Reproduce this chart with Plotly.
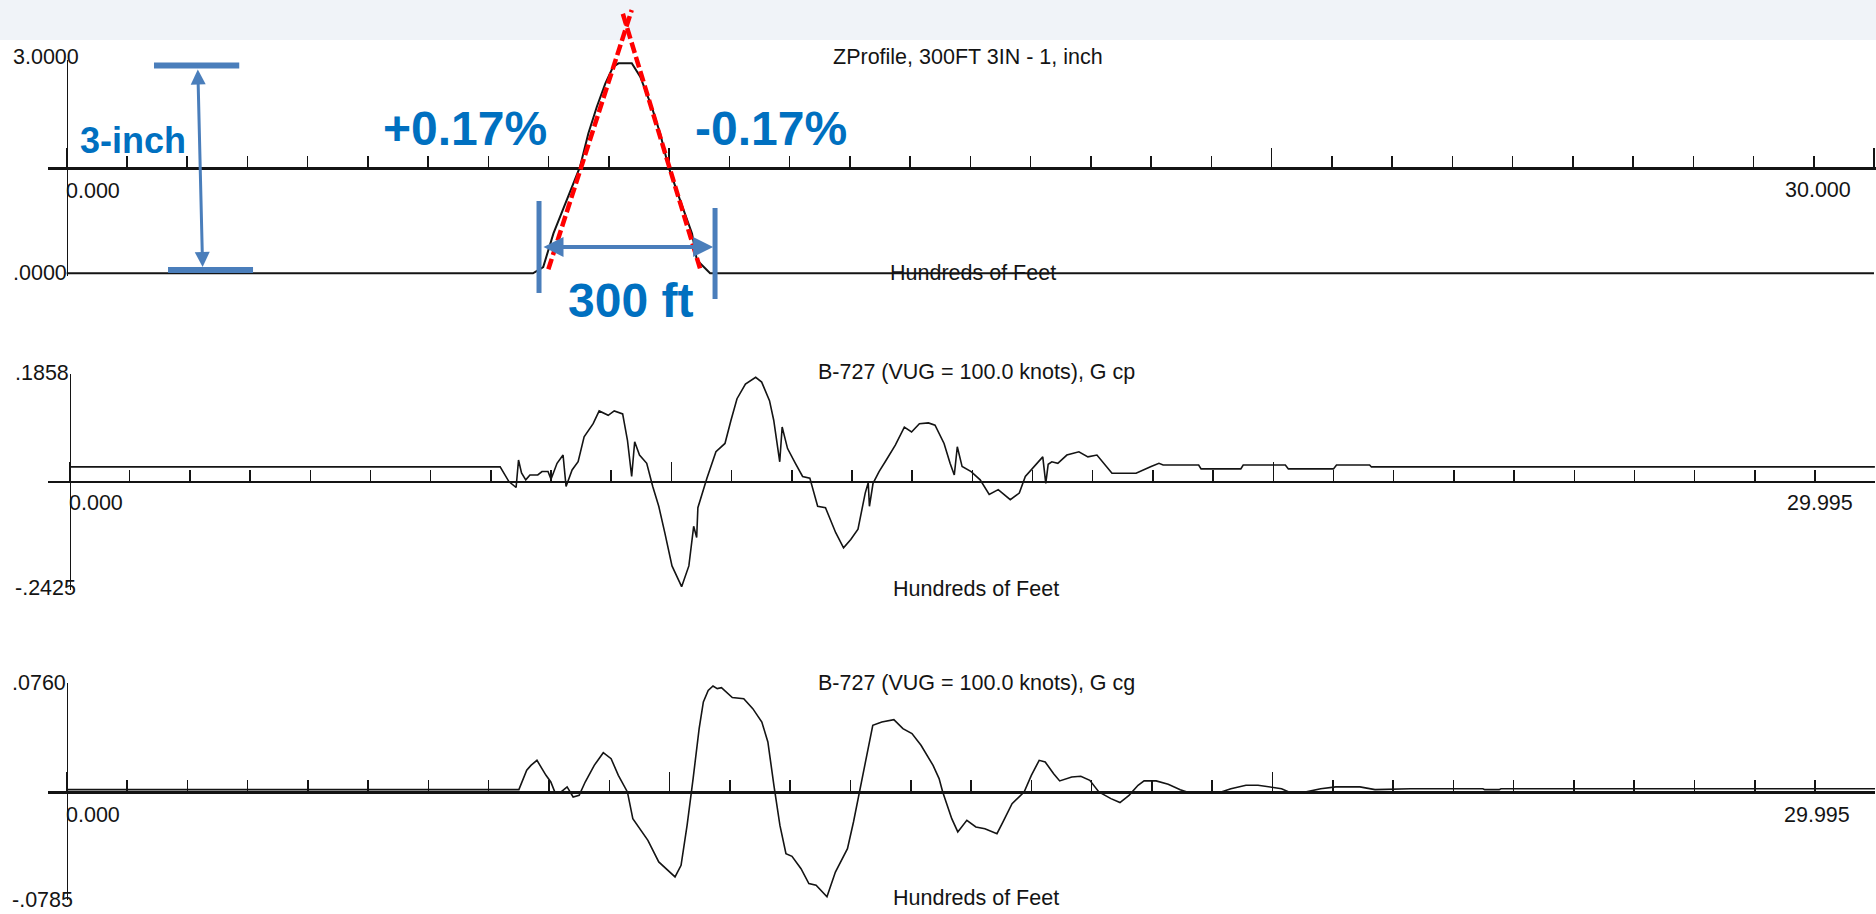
import plotly.graph_objects as go

W, H = 1876, 914

# ---------------- data ----------------
# Road profile: distance in hundreds of feet, elevation in inches
PROFILE_X = [0.0, 7.74, 7.80, 7.91, 8.08, 8.30, 8.52, 8.66, 8.80, 8.94, 9.07, 9.16, 9.38,
             9.52, 9.71, 9.85, 9.99, 10.18, 10.38, 10.46, 10.60, 10.68, 30.0]
PROFILE_Z = [0.0, 0.0, 0.03, 0.09, 0.57, 1.05, 1.52, 2.00, 2.38, 2.71, 2.95, 3.00, 3.00,
             2.81, 2.38, 2.00, 1.52, 1.05, 0.57, 0.19, 0.07, 0.0, 0.0]

# B-727 response at the cockpit (G cp)
GCP_X = [0.0, 7.155, 7.30, 7.42, 7.46, 7.51, 7.58, 7.65, 7.78, 7.85, 7.95, 8.00, 8.10, 8.20,
         8.25, 8.35, 8.45, 8.55, 8.70, 8.80, 8.95, 9.05, 9.19, 9.27, 9.34, 9.39, 9.47, 9.59,
         9.69, 9.79, 9.89, 10.01, 10.17, 10.29, 10.37, 10.42, 10.44, 10.59, 10.74, 10.89,
         10.99, 11.09, 11.23, 11.40, 11.50, 11.63, 11.70, 11.80, 11.84, 11.93, 12.06, 12.18,
         12.30, 12.43, 12.56, 12.73, 12.86, 12.98, 13.10, 13.22, 13.27, 13.29, 13.35, 13.45,
         13.57, 13.72, 13.87, 13.99, 14.12, 14.27, 14.38, 14.53, 14.63, 14.70, 14.75, 14.83,
         14.98, 15.13, 15.28, 15.43, 15.63, 15.78, 15.88, 16.03, 16.17, 16.22, 16.26, 16.32,
         16.42, 16.57, 16.77, 16.92, 17.07, 17.32, 17.72, 17.97, 18.10, 18.17, 18.76, 18.80,
         19.46, 19.50, 20.20, 20.25, 21.00, 21.05, 21.60, 21.63, 29.995]
GCP_G = [0.0025, 0.0025, -0.0274, -0.0396, 0.0166, -0.0100, -0.0240, -0.0140, -0.0140,
         -0.0070, -0.0070, -0.0226, 0.0099, 0.0268, -0.0375, -0.0037, 0.0130, 0.0640, 0.0910,
         0.1170, 0.1080, 0.1170, 0.1110, 0.0570, -0.0170, 0.0540, 0.0268, 0.0099, -0.0375,
         -0.0780, -0.1320, -0.2000, -0.2425, -0.2000, -0.1190, -0.1420, -0.0810, -0.0205,
         0.0335, 0.0505, 0.0980, 0.1420, 0.1720, 0.1858, 0.1760, 0.1380, 0.0980, 0.0130,
         0.0840, 0.0400, 0.0099, -0.0170, -0.0205, -0.0780, -0.0810, -0.1320, -0.1630,
         -0.1460, -0.1250, -0.0510, -0.0300, -0.0780, -0.0310, -0.0070, 0.0166, 0.0470,
         0.0840, 0.0740, 0.0910, 0.0925, 0.0877, 0.0505, 0.0099, -0.0140, 0.0437, 0.0032,
         -0.0070, -0.0240, -0.0540, -0.0440, -0.0645, -0.0510, -0.0170, 0.0032, 0.0230,
         -0.0310, 0.0080, 0.0130, 0.0099, 0.0268, 0.0335, 0.0230, 0.0268, -0.0104, -0.0104,
         0.0032, 0.0099, 0.0065, 0.0065, -0.0016, -0.0016, 0.0065, 0.0065, -0.0016, -0.0016,
         0.0065, 0.0065, 0.0025, 0.0025]

# B-727 response at the centre of gravity (G cg)
GCG_X = [0.0, 7.50, 7.63, 7.70, 7.80, 7.85, 7.95, 8.03, 8.10, 8.20, 8.30, 8.40, 8.50, 8.60,
         8.75, 8.90, 9.03, 9.15, 9.30, 9.39, 9.49, 9.64, 9.82, 9.94, 10.09, 10.19, 10.29,
         10.39, 10.49, 10.56, 10.64, 10.72, 10.79, 10.86, 11.04, 11.23, 11.38, 11.53, 11.63,
         11.73, 11.83, 11.93, 12.03, 12.18, 12.31, 12.43, 12.61, 12.75, 12.95, 13.05, 13.15,
         13.25, 13.37, 13.52, 13.72, 13.87, 14.02, 14.17, 14.37, 14.47, 14.53, 14.68, 14.78,
         14.93, 15.08, 15.23, 15.43, 15.53, 15.68, 15.88, 16.00, 16.13, 16.23, 16.37, 16.47,
         16.67, 16.82, 16.97, 17.12, 17.32, 17.47, 17.62, 17.77, 17.87, 18.07, 18.27, 18.47,
         18.62, 19.11, 19.31, 19.56, 19.76, 20.15, 20.30, 20.50, 20.80, 21.05, 21.45, 21.70,
         22.29, 23.49, 23.52, 23.76, 23.79, 29.995]
GCG_G = [0.0, 0.0, 0.0142, 0.0178, 0.0215, 0.0178, 0.0105, 0.0056, -0.0022, -0.0017, 0.0020,
         -0.0054, -0.0042, 0.0056, 0.0178, 0.0271, 0.0227, 0.0105, -0.0017, -0.0213, -0.0274,
         -0.0372, -0.0530, -0.0580, -0.0640, -0.0555, -0.0262, 0.0081, 0.0447, 0.0643, 0.0728,
         0.0760, 0.0741, 0.0748, 0.0675, 0.0667, 0.0594, 0.0496, 0.0350, 0.0032, -0.0262,
         -0.0470, -0.0489, -0.0580, -0.0689, -0.0701, -0.0785, -0.0604, -0.0433, -0.0237,
         -0.0017, 0.0203, 0.0472, 0.0496, 0.0513, 0.0447, 0.0411, 0.0325, 0.0178, 0.0081,
         -0.0017, -0.0213, -0.0310, -0.0225, -0.0274, -0.0286, -0.0323, -0.0237, -0.0103,
         -0.0017, 0.0105, 0.0215, 0.0203, 0.0117, 0.0064, 0.0093, 0.0098, 0.0068, -0.0017,
         -0.0066, -0.0095, -0.0042, 0.0032, 0.0064, 0.0064, 0.0039, 0.0000, -0.0022, -0.0022,
         0.0007, 0.0032, 0.0032, 0.0007, -0.0022, -0.0022, 0.0007, 0.0020, 0.0020, 0.0000,
         0.0007, 0.0007, 0.0000, 0.0000, 0.0007, 0.0007]

TITLES = ["ZProfile, 300FT 3IN - 1, inch",
          "B-727 (VUG = 100.0 knots), G cp",
          "B-727 (VUG = 100.0 knots), G cg"]
Y_TOP_LABELS = ["3.0000", ".1858", ".0760"]
Y_BOTTOM_LABELS = [".0000", "-.2425", "-.0785"]
X_START_LABELS = ["0.000", "0.000", "0.000"]
X_END_LABELS = ["30.000", "29.995", "29.995"]
X_TITLE = "Hundreds of Feet"

# Grade markup on the profile (hundreds of feet, inches)
GRADE_UP_X, GRADE_UP_Z = [7.995, 9.379], [0.057, 3.761]
GRADE_DOWN_X, GRADE_DOWN_Z = [10.513, 9.213], [0.071, 3.761]
HEIGHT_BAR_TOP_X, HEIGHT_BAR_TOP_Z = [1.449, 2.864], [2.969, 2.969]
HEIGHT_BAR_BOT_X, HEIGHT_BAR_BOT_Z = [1.682, 3.093], [0.047, 0.047]
HEIGHT_ARROW_X, HEIGHT_ARROW_Z = [2.176, 2.256], [2.933, 0.090]
LENGTH_BAR_L_X, LENGTH_BAR_L_Z = [7.840, 7.840], [1.033, -0.281]
LENGTH_BAR_R_X, LENGTH_BAR_R_Z = [10.762, 10.762], [0.933, -0.367]
LENGTH_ARROW_X, LENGTH_ARROW_Z = [7.890, 10.730], [0.376, 0.376]
MARKUP_TEXT = ["3-inch", "+0.17%", "-0.17%", "300 ft"]

# ---------------- layout geometry (pixels) ----------------
AXIS_LEFT = 48.0
PANELS = [
    dict(x0=66.7, ppu=60.243, dom_end=1875.5, top=63.3, bottom=273.3, axis=168.0),
    dict(x0=69.5, ppu=60.190, dom_end=1875.0, top=377.3, bottom=586.7, axis=481.5),
    dict(x0=66.7, ppu=60.290, dom_end=1875.0, top=686.0, bottom=896.7, axis=792.0),
]
INK = "#141414"
CHART_FONT = "Liberation Sans, Arial, sans-serif"
MARK_FONT = "Liberation Sans, Arial, sans-serif"
MARK_BLUE = "#0070C0"
LINE_BLUE = "#4A7EBB"


def paper_x(px):
    return px / W


def paper_y(py):
    return 1.0 - py / H


fig = go.Figure()
layout = dict(width=W, height=H, autosize=False, margin=dict(l=0, r=0, t=0, b=0),
              paper_bgcolor="white", plot_bgcolor="rgba(0,0,0,0)", showlegend=False,
              hovermode=False)

series = [(PROFILE_X, PROFILE_Z, 2.0), (GCP_X, GCP_G, 1.6), (GCG_X, GCG_G, 1.6)]
for i, (p, (xs, ys, lw)) in enumerate(zip(PANELS, series), start=1):
    sfx = "" if i == 1 else str(i)
    fig.add_trace(go.Scatter(x=xs, y=ys, mode="lines", line=dict(color=INK, width=lw),
                             xaxis="x" + sfx, yaxis="y" + sfx, hoverinfo="skip"))
    ymin, ymax = min(ys), max(ys)
    ppy = (p["bottom"] - p["top"]) / (ymax - ymin)
    pad = 3.0
    layout["xaxis" + sfx] = dict(
        domain=[paper_x(AXIS_LEFT), paper_x(p["dom_end"])],
        range=[(AXIS_LEFT - p["x0"]) / p["ppu"], (p["dom_end"] - p["x0"]) / p["ppu"]],
        anchor="free", position=paper_y(p["axis"]), side="bottom",
        showline=True, linecolor=INK, linewidth=2.5,
        ticks="inside", tickmode="linear", tick0=0, dtick=10, ticklen=19,
        tickwidth=1.5, tickcolor=INK,
        minor=dict(ticks="inside", tick0=0, dtick=1, ticklen=11, tickwidth=1.5,
                   tickcolor=INK, showgrid=False),
        showticklabels=False, showgrid=False, zeroline=False, fixedrange=True)
    layout["yaxis" + sfx] = dict(
        domain=[paper_y(p["bottom"] + pad), paper_y(p["top"] - pad)],
        range=[ymin - pad / ppy, ymax + pad / ppy],
        anchor="free", position=paper_x(p["x0"]),
        showline=True, linecolor=INK, linewidth=1.5, ticks="",
        showticklabels=False, showgrid=False, zeroline=False, fixedrange=True)

# Full-page overlay axes sharing the profile panel's scale, for the markup
p1 = PANELS[0]
ppy1 = (p1["bottom"] - p1["top"]) / (max(PROFILE_Z) - min(PROFILE_Z))
layout["xaxis4"] = dict(domain=[0, 1], anchor="y4", visible=False, fixedrange=True,
                        range=[-p1["x0"] / p1["ppu"], (W - p1["x0"]) / p1["ppu"]])
layout["yaxis4"] = dict(domain=[0, 1], anchor="x4", visible=False, fixedrange=True,
                        range=[min(PROFILE_Z) - (H - p1["bottom"]) / ppy1,
                               max(PROFILE_Z) + p1["top"] / ppy1])

for xs, zs in [(GRADE_UP_X, GRADE_UP_Z), (GRADE_DOWN_X, GRADE_DOWN_Z)]:
    fig.add_trace(go.Scatter(x=xs, y=zs, mode="lines", xaxis="x4", yaxis="y4",
                             line=dict(color="#FF0000", width=4.5, dash="11px,4px"),
                             hoverinfo="skip"))
for xs, zs, w in [(HEIGHT_BAR_TOP_X, HEIGHT_BAR_TOP_Z, 6), (HEIGHT_BAR_BOT_X, HEIGHT_BAR_BOT_Z, 6),
                  (LENGTH_BAR_L_X, LENGTH_BAR_L_Z, 5), (LENGTH_BAR_R_X, LENGTH_BAR_R_Z, 5)]:
    fig.add_trace(go.Scatter(x=xs, y=zs, mode="lines", xaxis="x4", yaxis="y4",
                             line=dict(color=LINE_BLUE, width=w), hoverinfo="skip"))

annotations = []
for xs, zs, w in [(HEIGHT_ARROW_X, HEIGHT_ARROW_Z, 3), (LENGTH_ARROW_X, LENGTH_ARROW_Z, 4)]:
    annotations.append(dict(x=xs[1], y=zs[1], ax=xs[0], ay=zs[0], xref="x4", yref="y4",
                            axref="x4", ayref="y4", text="", showarrow=True,
                            arrowside="end+start", arrowhead=2, startarrowhead=2,
                            arrowsize=1.0, startarrowsize=1.0, arrowwidth=w,
                            arrowcolor=LINE_BLUE, standoff=0, startstandoff=0))


def label(text, px, py, size, family, color, bold=False):
    annotations.append(dict(text=("<b>%s</b>" % text) if bold else text,
                            x=paper_x(px), y=paper_y(py), xref="paper", yref="paper",
                            xanchor="left", yanchor="middle", showarrow=False,
                            font=dict(family=family, size=size, color=color)))


# Chart lettering
CHART_SIZE = 21.5
pos = [
    dict(top=(11, 57), title=(831, 57.5), start=(64, 191), end=(1783, 190),
         bottom=(11, 273), xt=(888, 273.5)),
    dict(top=(13, 373), title=(816, 372), start=(67, 503), end=(1785, 503),
         bottom=(13, 588), xt=(891, 589)),
    dict(top=(10, 683), title=(816, 683), start=(64, 815), end=(1782, 815),
         bottom=(10, 900), xt=(891, 898)),
]
for i, q in enumerate(pos):
    label(Y_TOP_LABELS[i], *q["top"], CHART_SIZE, CHART_FONT, INK)
    label(TITLES[i], *q["title"], CHART_SIZE, CHART_FONT, INK)
    label(X_START_LABELS[i], *q["start"], CHART_SIZE, CHART_FONT, INK)
    label(X_END_LABELS[i], *q["end"], CHART_SIZE, CHART_FONT, INK)
    label(Y_BOTTOM_LABELS[i], *q["bottom"], CHART_SIZE, CHART_FONT, INK)
    label(X_TITLE, *q["xt"], CHART_SIZE, CHART_FONT, INK)

# Markup lettering
label(MARKUP_TEXT[0], 78, 140, 36, MARK_FONT, MARK_BLUE, bold=True)
label(MARKUP_TEXT[1], 381, 129, 48, MARK_FONT, MARK_BLUE, bold=True)
label(MARKUP_TEXT[2], 693, 129, 48, MARK_FONT, MARK_BLUE, bold=True)
label(MARKUP_TEXT[3], 566, 300.5, 48, MARK_FONT, MARK_BLUE, bold=True)

layout["annotations"] = annotations
layout["shapes"] = [dict(type="rect", xref="paper", yref="paper", x0=0, x1=1,
                         y0=paper_y(40), y1=1, line=dict(width=0),
                         fillcolor="#F0F3F8", layer="below")]

fig.update_layout(**layout)
fig.write_html("out.html", config={"displayModeBar": False, "staticPlot": True})
